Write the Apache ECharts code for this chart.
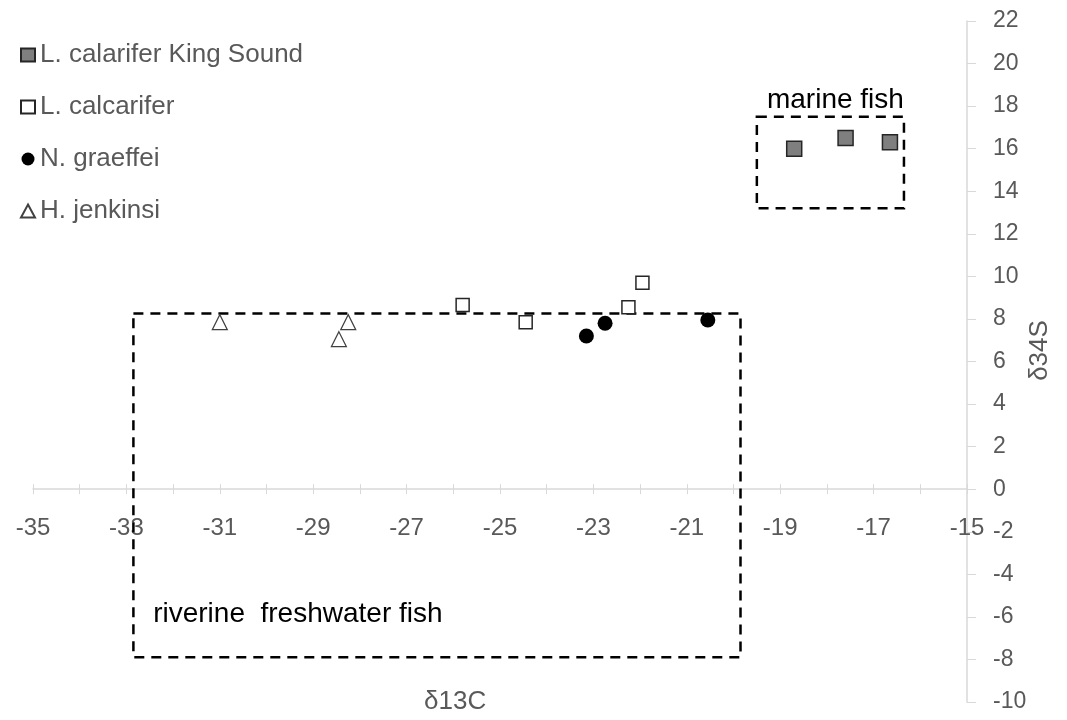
<!DOCTYPE html>
<html>
<head>
<meta charset="utf-8">
<script src="https://cdn.jsdelivr.net/npm/echarts@6/dist/echarts.min.js"></script>
<style>
  html, body { margin: 0; padding: 0; background: #fff; }
  #chart { width: 1067px; height: 720px; }
</style>
</head>
<body>
<div id="chart"></div>
<script>
// series data: [d13C, d34S]
var kingSound = [[-18.7, 16.0], [-17.6, 16.5], [-16.65, 16.3]];
var calcarifer = [[-25.8, 8.65], [-24.45, 7.85], [-22.25, 8.55], [-21.95, 9.7]];
var graeffei = [[-23.15, 7.2], [-22.75, 7.8], [-20.55, 7.95]];
var jenkinsi = [[-31.0, 7.85], [-28.45, 7.05], [-28.25, 7.85]];

var seriesNames = ["L. calarifer King Sound", "L. calcarifer", "N. graeffei", "H. jenkinsi"];

// dashed group boxes: [[x1, y1], [x2, y2]]
var riverineBox = [[-32.85, 8.25], [-19.85, -7.9]];
var marineBox = [[-19.5, 17.5], [-16.35, 13.2]];

var xMin = -35, xMax = -15, xStep = 2;
var yMin = -10, yMax = 22, yStep = 2;

var gray = "#595959";
var axisGray = "#d9d9d9";
var font = "Liberation Sans";

var gridTop = 21, gridBottom = 18;
var plotH = 720 - gridTop - gridBottom;
// distance from the bottom edge up to y = 0
var zeroOffset = -plotH * (0 - yMin) / (yMax - yMin);

var chart = echarts.init(document.getElementById("chart"));

var boxStyle = {
  color: "transparent",
  borderColor: "#000",
  borderWidth: 2.5,
  borderType: [10, 7]
};

chart.setOption({
  backgroundColor: "#fff",
  animation: false,
  textStyle: { fontFamily: font },
  grid: { left: 33, right: 100, top: gridTop, bottom: gridBottom, outerBoundsMode: "none", containLabel: false },
  legend: {
    orient: "vertical",
    left: 15,
    top: 37,
    itemWidth: 14,
    itemHeight: 13,
    itemGap: 26,
    data: seriesNames,
    textStyle: { color: gray, fontSize: 26, fontFamily: font }
  },
  xAxis: [
    {
      type: "value",
      min: xMin,
      max: xMax,
      interval: xStep,
      splitLine: { show: false },
      axisLine: { onZero: true, lineStyle: { color: axisGray, width: 1.5 } },
      axisTick: { length: 5, lineStyle: { color: axisGray } },
      minorTick: { show: true, splitNumber: 2, length: 5, lineStyle: { color: axisGray } },
      axisLabel: { show: false }
    },
    {
      // label/inner-tick copy of the x axis, shifted up to y = 0
      type: "value",
      position: "bottom",
      offset: zeroOffset,
      min: xMin,
      max: xMax,
      interval: xStep,
      splitLine: { show: false },
      axisLine: { show: false, onZero: false },
      axisTick: { inside: true, length: 5, lineStyle: { color: axisGray } },
      minorTick: { show: true, splitNumber: 2, length: 5, lineStyle: { color: axisGray } },
      axisLabel: { margin: 27, color: gray, fontSize: 24, fontFamily: font }
    }
  ],
  yAxis: {
    type: "value",
    position: "right",
    min: yMin,
    max: yMax,
    interval: yStep,
    splitLine: { show: false },
    axisLine: { onZero: false, lineStyle: { color: axisGray, width: 1.5 } },
    axisTick: { length: 9, lineStyle: { color: axisGray } },
    axisLabel: { margin: 26, color: gray, fontSize: 23, fontFamily: font },
    name: "δ34S",
    nameLocation: "middle",
    nameRotate: 90,
    nameGap: 60,
    nameMoveOverlap: false,
    nameTextStyle: { color: gray, fontSize: 26, fontFamily: font, padding: [0, 0, 0, 22] }
  },
  graphic: [
    {
      type: "text",
      left: 424,
      top: 689,
      style: { text: "δ13C", fill: gray, fontSize: 26, fontFamily: font }
    }
  ],
  series: [
    {
      name: seriesNames[0],
      type: "scatter",
      data: kingSound,
      symbol: "rect",
      symbolSize: 15,
      itemStyle: { color: "#7f7f7f", borderColor: "#262626", borderWidth: 1.5, opacity: 1 }
    },
    {
      name: seriesNames[1],
      type: "scatter",
      data: calcarifer,
      symbol: "rect",
      symbolSize: 13,
      itemStyle: { color: "#fff", borderColor: "#262626", borderWidth: 1.5, opacity: 1 }
    },
    {
      name: seriesNames[2],
      type: "scatter",
      data: graeffei,
      symbol: "circle",
      symbolSize: 15,
      itemStyle: { color: "#000", opacity: 1 }
    },
    {
      name: seriesNames[3],
      type: "scatter",
      data: jenkinsi,
      symbol: "triangle",
      symbolSize: 15,
      itemStyle: { color: "#fff", borderColor: "#404040", borderWidth: 1.2, opacity: 1 }
    },
    {
      type: "scatter",
      data: [],
      silent: true,
      markArea: {
        silent: true,
        data: [
          [
            {
              coord: riverineBox[0],
              itemStyle: boxStyle,
              label: {
                show: true,
                position: "insideBottomLeft",
                distance: 0,
                offset: [21, -30],
                formatter: "riverine  freshwater fish",
                color: "#000",
                fontSize: 28,
                fontFamily: font
              }
            },
            { coord: riverineBox[1] }
          ],
          [
            {
              coord: marineBox[0],
              itemStyle: boxStyle,
              label: {
                show: true,
                position: "top",
                distance: 1,
                offset: [5, 0],
                formatter: "marine fish",
                color: "#000",
                fontSize: 28,
                fontFamily: font
              }
            },
            { coord: marineBox[1] }
          ]
        ]
      }
    }
  ]
});
</script>
</body>
</html>
